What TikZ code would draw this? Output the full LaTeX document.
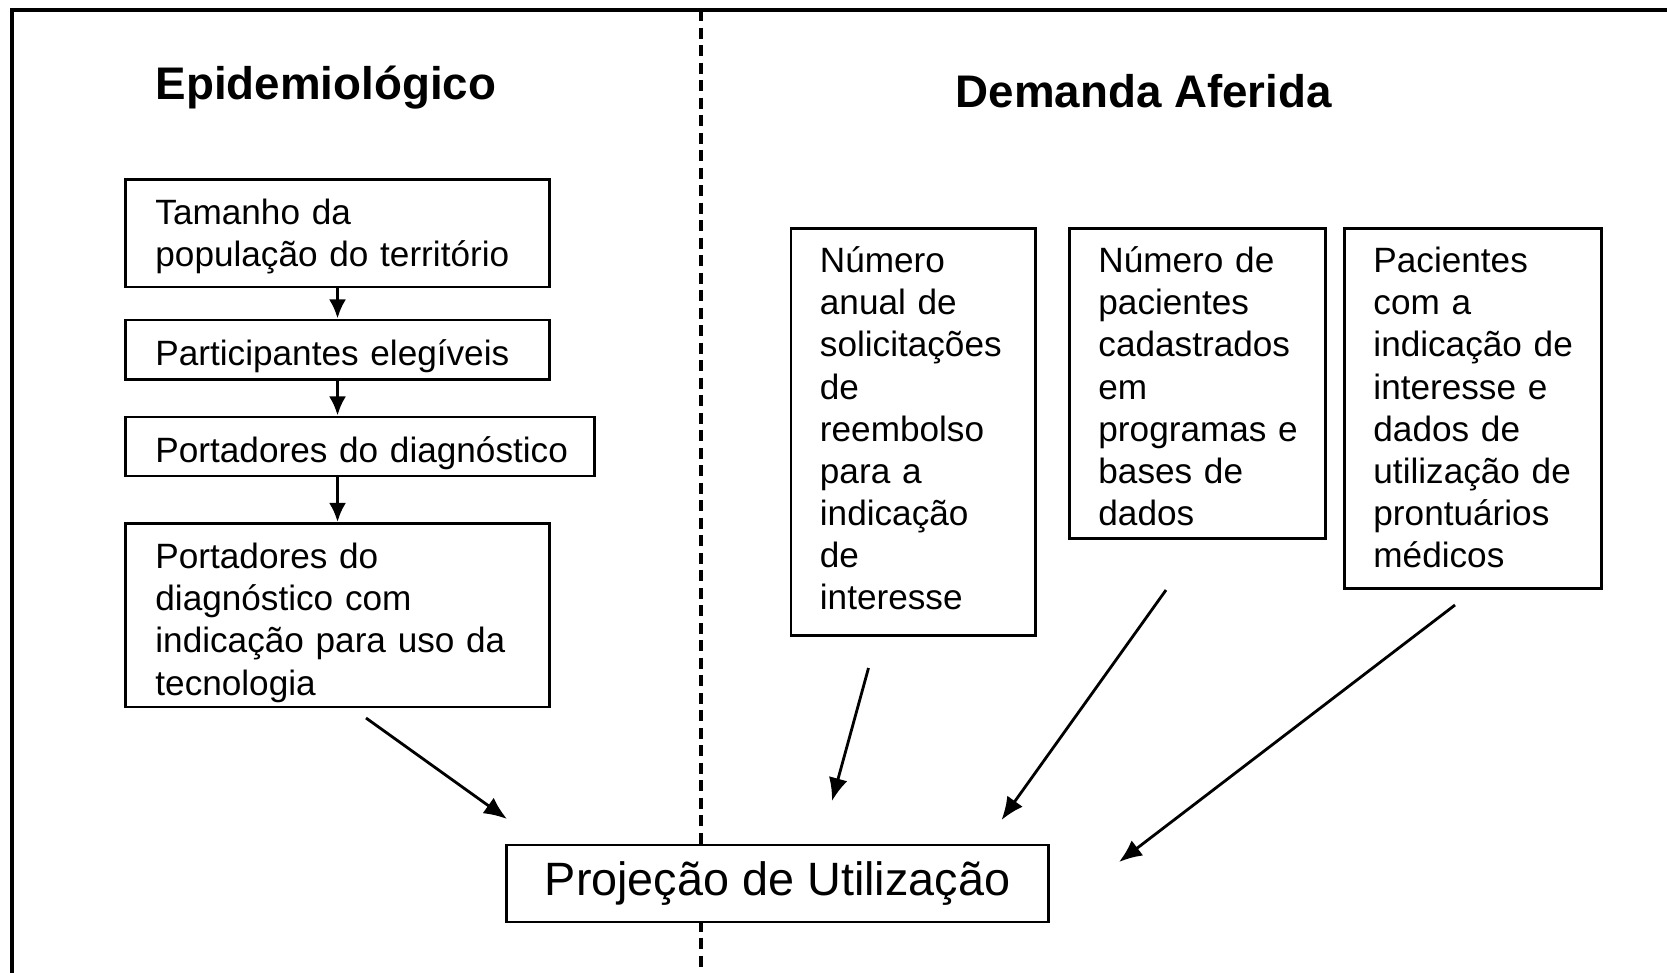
\documentclass[tikz,border=0pt]{standalone}
\usepackage{fontspec}
\setmainfont{Liberation Sans}
\usetikzlibrary{arrows.meta}
\tikzset{>={Latex[length=0.23cm,width=0.19cm]}}
\hyphenpenalty=10000
\exhyphenpenalty=10000

\begin{document}
\begin{tikzpicture}[x=0.01cm, y=-0.01cm,
    txt/.style={font=\fontsize{10pt}{11.95pt}\selectfont},
    ebox/.style={draw, line width=0.8pt, anchor=north west, align=left, inner xsep=0.3cm, inner ysep=0pt, text height=0.455cm, txt},
    dbox/.style={draw, line width=0.8pt, anchor=north west, align=left, inner xsep=0.29cm, inner ysep=0pt, text height=0.445cm, txt},
    heading/.style={anchor=base west, inner sep=0pt, font=\fontsize{13pt}{15pt}\selectfont\bfseries},
    seta/.style={->, line width=0.8pt},
    setinha/.style={-{Latex[length=0.19cm,width=0.17cm]}, line width=0.9pt}]
      \useasboundingbox (0,0) rectangle (1667,973);
      % moldura e divisoria
      \draw[line width=1pt] (12,990) -- (12,10) -- (1690,10);
      \draw[line width=0.9pt, dash pattern=on 0.11cm off 0.065cm] (701,10) -- (701,990);
      \node[heading] (t1) at (155,100) {Epidemiológico};
      \node[heading] (t2) at (955,108) {Demanda Aferida};
      % lado epidemiologico
      \node[ebox, text width=3.64cm, text depth=0.62cm] (b1) at (124,178) {Tamanho da\\população do território};
      \node[ebox, text width=3.64cm, text depth=0.14cm] (b2) at (124,318.5) {Participantes elegíveis};
      \node[ebox, text width=4.09cm, text depth=0.135cm] (b3) at (124,415.5) {\mbox{Portadores do diagnóstico}};
      \node[ebox, text width=3.64cm, text depth=1.38cm] (b4) at (124,522) {Portadores do\\diagnóstico com\\\mbox{indicação para uso da}\\tecnologia};
      % lado demanda aferida
      \node[dbox, text width=1.865cm, text depth=3.62cm] (r1) at (789.5,227) {Número\\anual de\\solicitações\\de\\reembolso\\para a\\indicação\\de\\interesse};
      \node[dbox, text width=1.98cm, text depth=2.655cm] (r2) at (1068,227) {Número de\\pacientes\\cadastrados\\em\\\mbox{programas e}\\bases de\\dados};
      \node[dbox, text width=1.99cm, text depth=3.15cm] (r3) at (1343,227) {Pacientes\\com a\\\mbox{indicação de}\\interesse e\\dados de\\\mbox{utilização de}\\prontuários\\médicos};
      \node[draw, fill=white, line width=0.8pt, minimum width=5.41cm, minimum height=0.77cm, inner sep=0pt, font=\fontsize{13.3pt}{15pt}\selectfont] (proj) at (777.5,883.5) {Projeção de Utilização};
      \draw[setinha] (b1) -- (b2);
      \draw[setinha] (b2) -- (b2.south |- b3.north);
      \draw[setinha] (b4.north |- b3.south) -- (b4);
      % setas para a projecao
      \coordinate (e1) at (366,718);
      \coordinate (p1) at (507,819);
      \coordinate (e2) at (868.5,668);
      \coordinate (p2) at (832,801);
      \coordinate (e3) at (1166,590);
      \coordinate (p3) at (1001.5,820);
      \coordinate (e4) at (1455,605);
      \coordinate (p4) at (1119,862);
      \draw[seta] (e1) -- (p1);
      \draw[seta] (e2) -- (p2);
      \draw[seta] (e3) -- (p3);
      \draw[seta] (e4) -- (p4);
    \end{tikzpicture}
\end{document}
